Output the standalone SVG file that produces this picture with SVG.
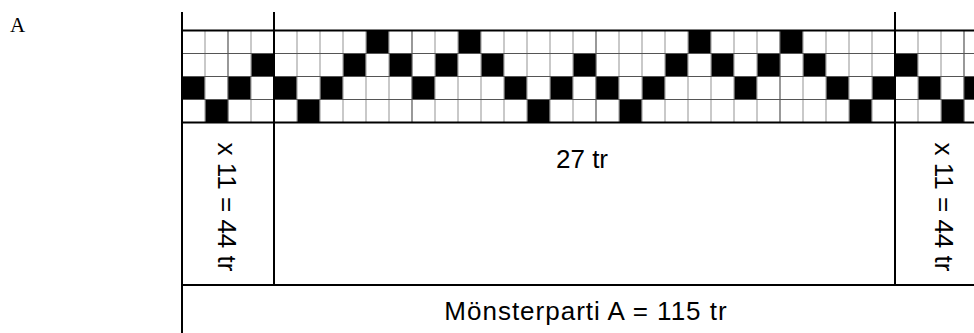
<svg xmlns="http://www.w3.org/2000/svg" width="974" height="333" viewBox="0 0 974 333">
<style>
.bg{fill:#ffffff}
.cell{fill:#000000}
.gl{stroke:#a6a6a6;stroke-width:1.2;fill:none}
.gd{stroke:#555555;stroke-width:1.2;fill:none}
.bd{stroke:#000000;stroke-width:2;fill:none}
.lbl{font-family:"Liberation Sans",Arial,sans-serif;font-size:26px;fill:#000000}
.ser{font-family:"Liberation Serif","Times New Roman",serif;font-size:21px;fill:#000000}
</style>
<rect class="bg" x="0" y="0" width="974" height="333"/>
<g id="label-A"><text class="ser" x="10" y="32">A</text></g>
<g id="pattern-grid">
<rect class="cell" x="182" y="76.5" width="23" height="23"/>
<rect class="cell" x="205" y="99.5" width="23" height="23"/>
<rect class="cell" x="228" y="76.5" width="23" height="23"/>
<rect class="cell" x="251" y="53.5" width="23" height="23"/>
<rect class="cell" x="274" y="76.5" width="23" height="23"/>
<rect class="cell" x="297" y="99.5" width="23" height="23"/>
<rect class="cell" x="320" y="76.5" width="23" height="23"/>
<rect class="cell" x="343" y="53.5" width="23" height="23"/>
<rect class="cell" x="366" y="30.5" width="23" height="23"/>
<rect class="cell" x="389" y="53.5" width="23" height="23"/>
<rect class="cell" x="412" y="76.5" width="23" height="23"/>
<rect class="cell" x="435" y="53.5" width="23" height="23"/>
<rect class="cell" x="458" y="30.5" width="23" height="23"/>
<rect class="cell" x="481" y="53.5" width="23" height="23"/>
<rect class="cell" x="504" y="76.5" width="23" height="23"/>
<rect class="cell" x="527" y="99.5" width="23" height="23"/>
<rect class="cell" x="550" y="76.5" width="23" height="23"/>
<rect class="cell" x="573" y="53.5" width="23" height="23"/>
<rect class="cell" x="596" y="76.5" width="23" height="23"/>
<rect class="cell" x="619" y="99.5" width="23" height="23"/>
<rect class="cell" x="642" y="76.5" width="23" height="23"/>
<rect class="cell" x="665" y="53.5" width="23" height="23"/>
<rect class="cell" x="688" y="30.5" width="23" height="23"/>
<rect class="cell" x="711" y="53.5" width="23" height="23"/>
<rect class="cell" x="734" y="76.5" width="23" height="23"/>
<rect class="cell" x="757" y="53.5" width="23" height="23"/>
<rect class="cell" x="780" y="30.5" width="23" height="23"/>
<rect class="cell" x="803" y="53.5" width="23" height="23"/>
<rect class="cell" x="826" y="76.5" width="23" height="23"/>
<rect class="cell" x="849" y="99.5" width="23" height="23"/>
<rect class="cell" x="872" y="76.5" width="23" height="23"/>
<rect class="cell" x="895" y="53.5" width="23" height="23"/>
<rect class="cell" x="918" y="76.5" width="23" height="23"/>
<rect class="cell" x="941" y="99.5" width="23" height="23"/>
<rect class="cell" x="964" y="76.5" width="23" height="23"/>
<path class="gl" d="M205 30.5V122.5M251 30.5V122.5M297 30.5V122.5M320 30.5V122.5M343 30.5V122.5M366 30.5V122.5M389 30.5V122.5M435 30.5V122.5M458 30.5V122.5M481 30.5V122.5M504 30.5V122.5M527 30.5V122.5M550 30.5V122.5M573 30.5V122.5M619 30.5V122.5M642 30.5V122.5M665 30.5V122.5M688 30.5V122.5M711 30.5V122.5M734 30.5V122.5M757 30.5V122.5M803 30.5V122.5M826 30.5V122.5M849 30.5V122.5M872 30.5V122.5M918 30.5V122.5M941 30.5V122.5"/>
<path class="gd" d="M228 30.5V122.5M412 30.5V122.5M596 30.5V122.5M780 30.5V122.5M964 30.5V122.5"/>
<path class="gd" d="M182 53.5H974M182 76.5H974M182 99.5H974"/>
</g>
<g id="table-lines">
<path class="bd" d="M182 30.5H974M182 122.5H974"/>
<path class="bd" d="M182 12V333M274 12V285M895 12V285M182 285H974"/>
</g>
<g id="section-left"><text class="lbl" transform="translate(218,207) rotate(90)" text-anchor="middle">x 11 = 44 tr</text></g>
<g id="section-middle"><text class="lbl" x="582" y="168" text-anchor="middle">27 tr</text></g>
<g id="section-right"><text class="lbl" transform="translate(935,207) rotate(90)" text-anchor="middle">x 11 = 44 tr</text></g>
<g id="total"><text class="lbl" x="586" y="320" text-anchor="middle" letter-spacing="1">Mönsterparti A = 115 tr</text></g>
</svg>
